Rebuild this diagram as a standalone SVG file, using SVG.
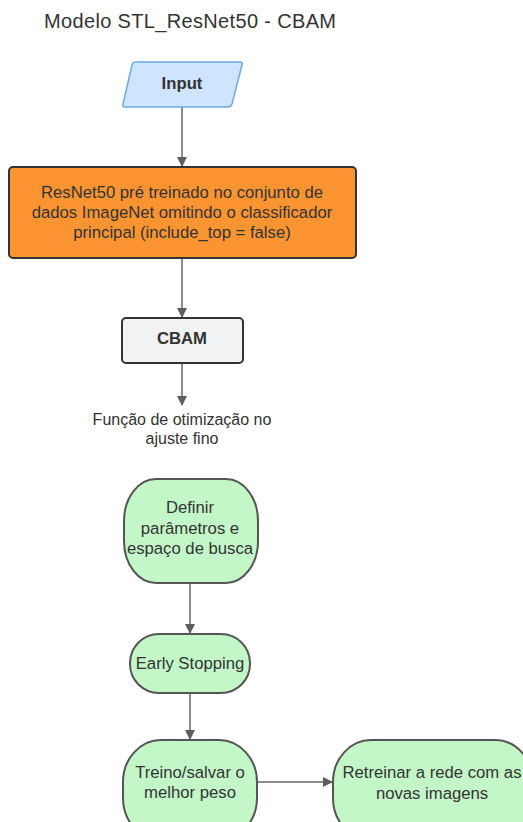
<svg xmlns="http://www.w3.org/2000/svg" width="523" height="822" viewBox="0 0 523 822">
<defs>
<marker id="arr" markerWidth="10" markerHeight="10" refX="9" refY="5" orient="auto" markerUnits="userSpaceOnUse">
<path d="M0,0 L10,5 L0,10 Z" fill="#5e5e5e"/>
</marker>
<style>
text{font-family:"Liberation Sans",Arial,sans-serif;fill:#333;}
.t{font-size:16.7px;text-anchor:middle;}
.b{font-weight:bold;}
.g{fill:#c3f7c8;stroke:#555;stroke-width:2;}
.c{stroke:#666;stroke-width:1.5;fill:none;marker-end:url(#arr);}
</style>
</defs>
<rect width="523" height="822" fill="#fff"/>
<text x="44" y="28" style="font-size:20px" textLength="292" lengthAdjust="spacing">Modelo STL_ResNet50 - CBAM</text>
<g id="connectors">
<line class="c" x1="182" y1="107" x2="182" y2="166"/>
<line class="c" x1="182" y1="258" x2="182" y2="317"/>
<line class="c" x1="182" y1="363" x2="182" y2="405"/>
<line class="c" x1="190" y1="583" x2="190" y2="633"/>
<line class="c" x1="190" y1="693" x2="190" y2="739"/>
<line class="c" x1="257" y1="782" x2="332" y2="782"/>
</g>
<g id="input">
<path d="M135,62 L240,62 Q243,62 242,65 L232,104 Q231,107 228,107 L125,107 Q122,107 123,104 L132,65 Q133,62 135,62 Z" fill="#cfe4ff" stroke="#6fa8ec" stroke-width="1.5"/>
<text class="t b" x="182" y="89">Input</text>
</g>
<g id="resnet">
<rect x="9" y="167" width="347" height="91" rx="4" fill="#fc9432" stroke="#333" stroke-width="2"/>
<text class="t" x="182" y="198">ResNet50 pré treinado no conjunto de</text>
<text class="t" x="182" y="218">dados ImageNet omitindo o classificador</text>
<text class="t" x="182" y="238">principal (include_top = false)</text>
</g>
<g id="cbam">
<rect x="122" y="318" width="121" height="45" rx="4" fill="#f1f2f4" stroke="#333" stroke-width="2"/>
<text class="t b" x="182" y="344">CBAM</text>
</g>
<g id="funcao">
<text class="t" style="font-size:16px" x="182" y="425">Função de otimização no</text>
<text class="t" style="font-size:16px" x="182" y="444">ajuste fino</text>
</g>
<g id="definir">
<rect class="g" x="124" y="479" width="134" height="104" rx="32" ry="42"/>
<text class="t" x="190" y="513">Definir</text>
<text class="t" x="190" y="534">parâmetros e</text>
<text class="t" x="190" y="554">espaço de busca</text>
</g>
<g id="early">
<rect class="g" x="130" y="634" width="120" height="59" rx="29" ry="29"/>
<text class="t" x="190" y="669">Early Stopping</text>
</g>
<g id="treino">
<rect class="g" x="123" y="740" width="134" height="100" rx="38" ry="42"/>
<text class="t" x="190" y="778">Treino/salvar o</text>
<text class="t" x="190" y="798">melhor peso</text>
</g>
<g id="retreinar">
<rect class="g" x="333" y="740" width="200" height="100" rx="38" ry="42"/>
<text class="t" x="432" y="778">Retreinar a rede com as</text>
<text class="t" x="432" y="799">novas imagens</text>
</g>
</svg>
